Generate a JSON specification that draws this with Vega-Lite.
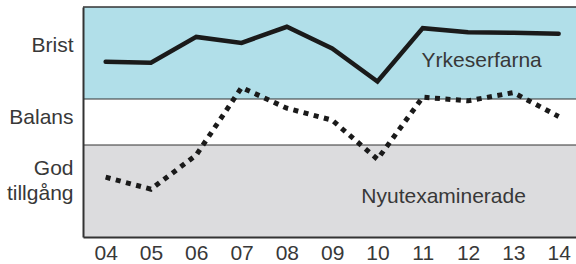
{
  "$schema": "https://vega.github.io/schema/vega-lite/v6.json",
  "width": 493,
  "height": 230,
  "autosize": {"type": "none"},
  "padding": {"left": 83, "top": 7, "right": 0, "bottom": 27},
  "config": {
    "view": {"stroke": null},
    "font": "Liberation Sans",
    "text": {"font": "Liberation Sans"}
  },
  "datasets": {
    "bands": [
      {"band": "God tillgång", "lo": 0, "hi": 2},
      {"band": "Balans", "lo": 2, "hi": 3},
      {"band": "Brist", "lo": 3, "hi": 5}
    ],
    "series": [
      {"year": 2004, "group": "Yrkeserfarna", "value": 3.81},
      {"year": 2005, "group": "Yrkeserfarna", "value": 3.79},
      {"year": 2006, "group": "Yrkeserfarna", "value": 4.35},
      {"year": 2007, "group": "Yrkeserfarna", "value": 4.22},
      {"year": 2008, "group": "Yrkeserfarna", "value": 4.57},
      {"year": 2009, "group": "Yrkeserfarna", "value": 4.10},
      {"year": 2010, "group": "Yrkeserfarna", "value": 3.38},
      {"year": 2011, "group": "Yrkeserfarna", "value": 4.54},
      {"year": 2012, "group": "Yrkeserfarna", "value": 4.45},
      {"year": 2013, "group": "Yrkeserfarna", "value": 4.44},
      {"year": 2014, "group": "Yrkeserfarna", "value": 4.42},
      {"year": 2004, "group": "Nyutexaminerade", "value": 1.30},
      {"year": 2005, "group": "Nyutexaminerade", "value": 1.04},
      {"year": 2006, "group": "Nyutexaminerade", "value": 1.78},
      {"year": 2007, "group": "Nyutexaminerade", "value": 3.25},
      {"year": 2008, "group": "Nyutexaminerade", "value": 2.80},
      {"year": 2009, "group": "Nyutexaminerade", "value": 2.54},
      {"year": 2010, "group": "Nyutexaminerade", "value": 1.69},
      {"year": 2011, "group": "Nyutexaminerade", "value": 3.04},
      {"year": 2012, "group": "Nyutexaminerade", "value": 2.96},
      {"year": 2013, "group": "Nyutexaminerade", "value": 3.14},
      {"year": 2014, "group": "Nyutexaminerade", "value": 2.62}
    ],
    "labels": [
      {"name": "Yrkeserfarna"},
      {"name": "Nyutexaminerade"}
    ]
  },
  "layer": [
    {
      "data": {"name": "bands"},
      "mark": {"type": "rect"},
      "encoding": {
        "x": {"datum": 2003.5, "type": "quantitative",
          "scale": {"domain": [2003.5, 2014.383], "nice": false, "zero": false},
          "axis": {
            "orient": "bottom",
            "values": [2004, 2004.5, 2005, 2005.5, 2006, 2006.5, 2007, 2007.5, 2008, 2008.5, 2009, 2009.5, 2010, 2010.5, 2011, 2011.5, 2012, 2012.5, 2013, 2013.5, 2014],
            "labelExpr": "datum.value % 1 == 0 ? slice(toString(datum.value), 2) : ''",
            "labelFontSize": 21,
            "labelFont": "Liberation Sans",
            "labelColor": "#383838",
            "labelPadding": 9,
            "labelBaseline": "top",
            "labelOverlap": false,
            "labelFlush": false,
            "labelBound": false,
            "tickSize": -4,
            "tickColor": "#555555",
            "tickWidth": 1,
            "tickOpacity": {"condition": {"test": "datum.value % 1 == 0", "value": 0}, "value": 1},
            "domain": true,
            "domainColor": "#333333",
            "domainWidth": 2,
            "grid": false,
            "title": null,
            "zindex": 1
          }
        },
        "x2": {"datum": 2014.383},
        "y": {"field": "lo", "type": "quantitative",
          "scale": {"domain": [0, 5], "nice": false, "zero": false},
          "axis": {
            "orient": "left",
            "values": [4.03, 2.457, 1.348],
            "labelExpr": "datum.value > 3.5 ? 'Brist' : (datum.value > 2 ? 'Balans' : ['God', 'tillgång'])",
            "labelFontSize": 21,
            "labelFont": "Liberation Sans",
            "labelColor": "#383838",
            "labelBaseline": "alphabetic",
            "labelLineHeight": 25,
            "labelAlign": "right",
            "labelPadding": 10,
            "labelOverlap": false,
            "labelFlush": false,
            "labelBound": false,
            "ticks": false,
            "domain": true,
            "domainColor": "#333333",
            "domainWidth": 2,
            "grid": false,
            "title": null,
            "zindex": 1
          }
        },
        "y2": {"field": "hi"},
        "color": {"field": "band", "type": "nominal",
          "scale": {"domain": ["God tillgång", "Balans", "Brist"], "range": ["#dcdcde", "#ffffff", "#b1dfe9"]},
          "legend": null}
      }
    },
    {
      "data": {"name": "bands"},
      "transform": [{"filter": "datum.lo > 0"}],
      "mark": {"type": "rule", "color": "#333333", "strokeWidth": 1.2},
      "encoding": {"y": {"field": "lo", "type": "quantitative"}}
    },
    {
      "data": {"name": "bands"},
      "transform": [{"filter": "datum.hi == 5"}],
      "mark": {"type": "rule", "color": "#333333", "strokeWidth": 1.5},
      "encoding": {"y": {"field": "hi", "type": "quantitative"}}
    },
    {
      "data": {"name": "series"},
      "transform": [{"filter": "datum.group == 'Yrkeserfarna'"}],
      "mark": {"type": "line", "color": "#1a1a1a", "strokeWidth": 4.5, "strokeCap": "round", "strokeJoin": "miter"},
      "encoding": {
        "x": {"field": "year", "type": "quantitative"},
        "y": {"field": "value", "type": "quantitative"}
      }
    },
    {
      "data": {"name": "series"},
      "transform": [{"filter": "datum.group == 'Nyutexaminerade'"}],
      "mark": {"type": "line", "color": "#1a1a1a", "strokeWidth": 5, "strokeCap": "butt", "strokeDash": [5, 5.5]},
      "encoding": {
        "x": {"field": "year", "type": "quantitative"},
        "y": {"field": "value", "type": "quantitative"}
      }
    },
    {
      "data": {"name": "labels"},
      "transform": [{"filter": "datum.name == 'Yrkeserfarna'"}],
      "mark": {"type": "text", "fontSize": 21, "font": "Liberation Sans", "color": "#383838", "align": "center", "baseline": "alphabetic"},
      "encoding": {
        "x": {"datum": 2012.30, "type": "quantitative"},
        "y": {"datum": 3.70, "type": "quantitative"},
        "text": {"field": "name"}
      }
    },
    {
      "data": {"name": "labels"},
      "transform": [{"filter": "datum.name == 'Nyutexaminerade'"}],
      "mark": {"type": "text", "fontSize": 21, "font": "Liberation Sans", "color": "#383838", "align": "center", "baseline": "alphabetic"},
      "encoding": {
        "x": {"datum": 2011.46, "type": "quantitative"},
        "y": {"datum": 0.746, "type": "quantitative"},
        "text": {"field": "name"}
      }
    }
  ]
}
